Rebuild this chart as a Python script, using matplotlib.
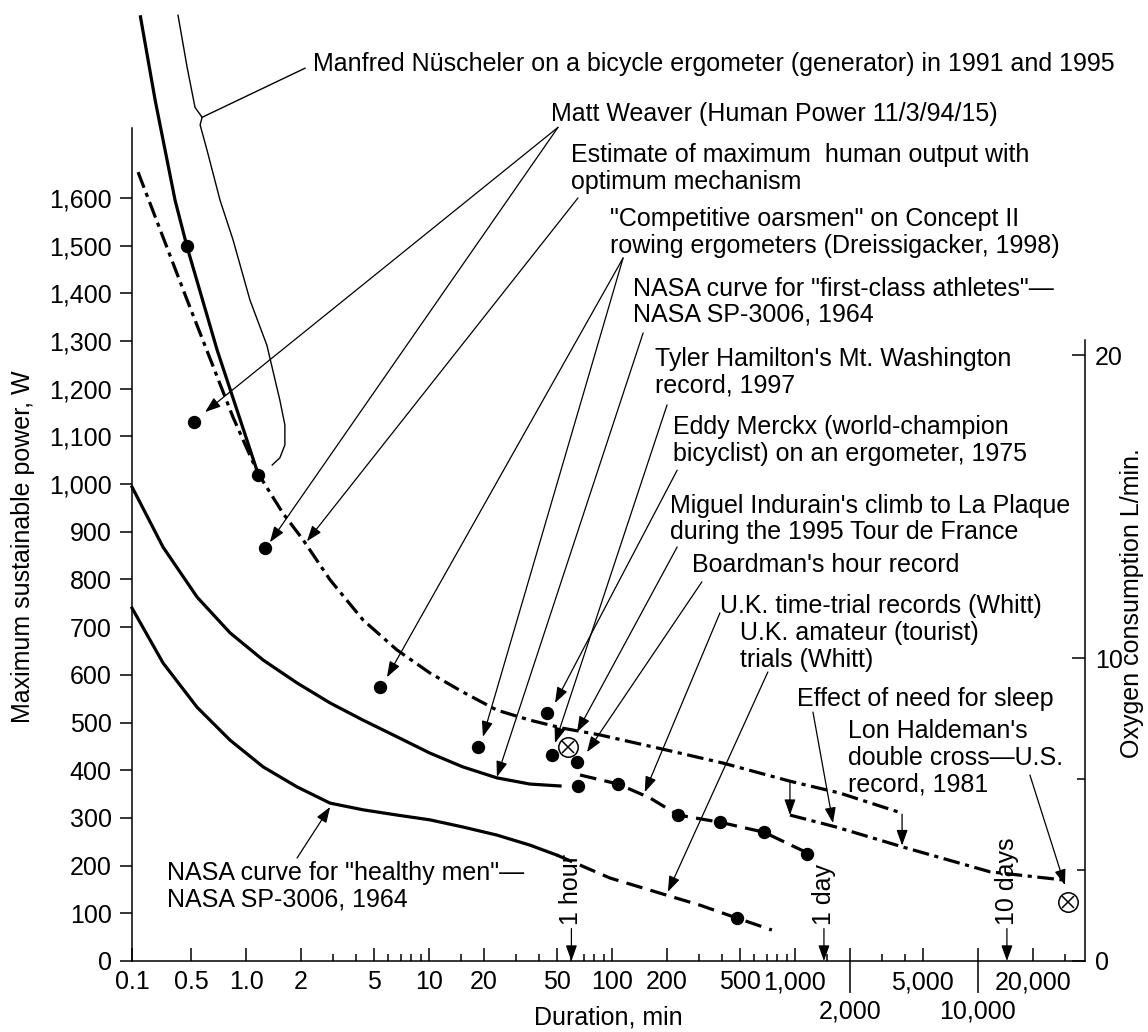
import numpy as np
import matplotlib
matplotlib.use("Agg")
import matplotlib.pyplot as plt

plt.rcParams["font.family"] = ["Liberation Sans", "DejaVu Sans"]
plt.rcParams["lines.scale_dashes"] = False

# durations in min, power in W
nuscheler_t = [0.125, 0.188, 0.324, 0.45, 0.695, 1.16]
nuscheler_w = [1983, 1805, 1595, 1497, 1281, 1023]
nuscheler_dot_t = [0.45, 1.16]
nuscheler_dot_w = [1500, 1020]

weaver_t = [0.52, 1.27]
weaver_w = [1130, 866]

best_t = [0.118, 0.45, 0.849, 1.16, 1.59, 2.05, 2.88, 4.36, 6.69, 10.1, 15.3,
          23.5, 35.6, 54, 86, 176, 404, 939, 1762, 3845]
best_w = [1654, 1386, 1140, 1023, 939, 883, 799, 715, 652, 604, 564,
          526, 505, 488, 474, 447, 415, 377, 352, 310]
sleep_t = [939, 1675, 3890, 11640, 29100]
sleep_w = [306, 281, 239, 187, 170]

athlete_t = [0.1, 0.233, 0.54, 0.818, 1.24, 1.90, 2.88, 4.36, 6.69, 10.1, 15.3, 23.5, 35.6, 52]
athlete_w = [994, 868, 763, 688, 631, 583, 541, 505, 470, 436, 407, 384, 371, 367]

healthy_t = [0.1, 0.233, 0.54, 0.818, 1.24, 1.90, 2.88, 4.36, 6.69, 10.1, 15.3, 23.5, 35.6, 50]
healthy_w = [740, 625, 532, 463, 407, 365, 331, 317, 306, 296, 281, 264, 243, 222]

amateur_t = [50, 97.5, 207, 303, 482, 748]
amateur_w = [222, 174, 136, 117, 90, 65]
amateur_dot_t = [482]
amateur_dot_w = [90]

trial_t = [66.9, 108, 161, 230, 389, 677, 1208]
trial_w = [390, 371, 342, 306, 291, 270, 224]
trial_dot_t = [65, 108, 230, 389, 677, 1163]
trial_dot_w = [367, 371, 306, 291, 270, 224]

oarsmen_t = [5.4, 18.5]
oarsmen_w = [574, 449]
merckx_t, merckx_w = [44.2], [520]
hamilton_t, hamilton_w = [47], [432]
boardman_t, boardman_w = [64.4], [417]
indurain_t, indurain_w = [57.5], [449]
haldeman_t, haldeman_w = [31040], [124]

W_PER_LPM = 63.5

major_ticks = [0.1, 0.5, 1, 2, 5, 10, 20, 50, 100, 200, 500, 1000, 2000, 5000, 10000, 20000]
major_labels = ["0.1", "0.5", "1.0", "2", "5", "10", "20", "50", "100", "200", "500",
                "1,000", "", "5,000", "", "20,000"]
minor_ticks = [3, 4, 6, 7, 8, 9, 15, 30, 40, 60, 70, 80, 90, 300, 400, 600, 700, 800, 900,
               1500, 3000, 4000, 30000]
low_ticks = [2000, 10000]
low_labels = ["2,000", "10,000"]

time_marks = [60, 1440, 14400]
time_labels = ["1 hour", "1 day", "10 days"]

# labels: text, anchor (left, baseline of last line), arrow start, arrow tips
notes = [
    ("Matt Weaver (Human Power 11/3/94/15)", (46.4, 1761), (50.7, 1748),
     [(0.597, 1151), (1.35, 878)]),
    ("Estimate of maximum  human output with\noptimum mechanism", (59.7, 1619), (65.2, 1600),
     [(2.15, 880)]),
    ("\"Competitive oarsmen\" on Concept II\nrowing ergometers (Dreissigacker, 1998)",
     (97.5, 1485), (115, 1474), [(5.89, 595), (19.7, 470)]),
    ("NASA curve for \"first-class athletes\"\u2014\nNASA SP-3006, 1964", (130, 1340),
     (148, 1317), [(23.5, 386)]),
    ("Tyler Hamilton's Mt. Washington\nrecord, 1997", (172, 1193), (200, 1166),
     [(48.8, 457)]),
    ("Eddy Merckx (world-champion\nbicyclist) on an ergometer, 1975", (215, 1049),
     (227, 1029), [(48.8, 541)]),
    ("Miguel Indurain's climb to La Plaque\nduring the 1995 Tour de France", (207, 885),
     (227, 868), [(64.4, 480)]),
    ("Boardman's hour record", (274, 816), (310, 795), [(73, 438)]),
    ("U.K. time-trial records (Whitt)", (389, 730), (389, 730), [(151, 354)]),
    ("U.K. amateur (tourist)\ntrials (Whitt)", (500, 617), (711, 606), [(202, 145)]),
    ("Effect of need for sleep", (1026, 535), (1254, 522), [(1614, 289)]),
    ("Lon Haldeman's\ndouble cross\u2014U.S.\nrecord, 1981", (1950, 356), (19230, 390),
     [(29870, 159)]),
    ("NASA curve for \"healthy men\"\u2014\nNASA SP-3006, 1964", (0.26, 114), (1.90, 216),
     [(2.88, 323)]),
]
sleep_steps = [((939, 375), (939, 306)), ((3850, 308), (3850, 242))]

bracket_t = [0.351, 0.45, 0.526, 0.575, 0.561, 0.612, 0.721, 0.849, 1.05, 1.30, 1.53,
             1.63, 1.63, 1.53, 1.39]
bracket_w = [1983, 1874, 1790, 1769, 1753, 1700, 1595, 1512, 1386, 1291, 1176,
             1124, 1082, 1055, 1040]

LOG_HALF = np.log10(0.5)
SQUEEZE = 0.461


def fwd(x):
    u = np.log10(np.clip(x, 1e-6, None))
    return np.where(u >= LOG_HALF, u, LOG_HALF + (u - LOG_HALF) * SQUEEZE)


def inv(p):
    p = np.asarray(p, dtype=float)
    return 10 ** np.where(p >= LOG_HALF, p, LOG_HALF + (p - LOG_HALF) / SQUEEZE)


FS = 18
fig = plt.figure(figsize=(11.48, 10.32), dpi=100)
ax = fig.add_axes([0.1150, 0.0688, 0.8301, 0.9312])
ax.set_xscale("function", functions=(fwd, inv))
ax.set_xlim(0.1, 38460)
ax.set_ylim(0, 2015)

ax.spines["top"].set_visible(False)
ax.spines["left"].set_bounds(0, 1746)
ax.spines["right"].set_bounds(0, 1302)
for s in ["left", "right", "bottom"]:
    ax.spines[s].set_linewidth(1.1)

ax.set_yticks(range(0, 1700, 100))
ax.set_yticklabels([f"{v:,}" for v in range(0, 1700, 100)])
ax.tick_params(axis="y", direction="out", length=8.6, width=1.1, pad=6, labelsize=FS)
ax.set_xticks(major_ticks, major_labels)
ax.set_xticks(minor_ticks, minor=True)
ax.tick_params(axis="x", which="major", direction="in", length=9.5, width=1.1, pad=6.5,
               labelsize=FS)
ax.tick_params(axis="x", which="minor", direction="in", length=5, width=1.1)

# second row of x labels with long ticks
ax_low = ax.twiny()
ax_low.set_xscale("function", functions=(fwd, inv))
ax_low.set_xlim(ax.get_xlim())
ax_low.xaxis.set_ticks_position("bottom")
ax_low.set_xticks(low_ticks, low_labels)
ax_low.tick_params(axis="x", direction="out", length=23, width=1.1, pad=5, labelsize=FS)
for s in ax_low.spines.values():
    s.set_visible(False)

sec = ax.secondary_yaxis("right", functions=(lambda w: w / W_PER_LPM, lambda l: l * W_PER_LPM))
sec.set_yticks([0, 10, 20])
sec.set_yticks([3, 6], minor=True)
sec.tick_params(which="major", direction="in", length=9.5, width=1.1, pad=7, labelsize=FS)
sec.tick_params(which="minor", direction="in", length=6, width=1.1)
for s in sec.spines.values():
    s.set_visible(False)

fig.text(23 / 1148, 1 - 547 / 1032, "Maximum sustainable power, W", rotation=90,
         ha="center", va="center", fontsize=FS)
fig.text(1132 / 1148, 1 - 603 / 1032, "Oxygen consumption L/min.", rotation=90,
         ha="center", va="center", fontsize=FS)
fig.text(608 / 1148, 1 - 1017 / 1032, "Duration, min", ha="center", va="center", fontsize=FS)

thick = 2.3
ax.plot(nuscheler_t, nuscheler_w, color="black", lw=thick, solid_capstyle="butt")
ax.plot(athlete_t, athlete_w, color="black", lw=thick, clip_on=False)
ax.plot(healthy_t, healthy_w, color="black", lw=thick, clip_on=False)
ax.plot(best_t, best_w, color="black", lw=thick, dashes=(12, 4, 3, 4))
ax.plot(sleep_t, sleep_w, color="black", lw=thick, dashes=(12, 4, 3, 4))
ax.plot(amateur_t, amateur_w, color="black", lw=thick, dashes=(12, 6))
ax.plot(trial_t, trial_w, color="black", lw=thick, dashes=(12, 6))
ax.plot(bracket_t, bracket_w, color="black", lw=1.0)

dot_sets = [(nuscheler_dot_t, nuscheler_dot_w), (weaver_t, weaver_w), (oarsmen_t, oarsmen_w),
            (merckx_t, merckx_w), (hamilton_t, hamilton_w), (boardman_t, boardman_w),
            (trial_dot_t, trial_dot_w), (amateur_dot_t, amateur_dot_w)]
for t, w in dot_sets:
    ax.plot(t, w, "o", color="black", ms=8.6, zorder=5)
for t, w in [(indurain_t, indurain_w), (haldeman_t, haldeman_w)]:
    ax.plot(t, w, "o", mfc="white", mec="black", mew=1.1, ms=14, zorder=5, clip_on=False)
    ax.plot(t, w, "x", color="black", mew=1.1, ms=9, zorder=6, clip_on=False)

arrow = dict(arrowstyle="-|>,head_length=0.95,head_width=0.34", color="black", lw=0.9,
             shrinkA=0, shrinkB=0)

ax.text(2.32, 1866, "Manfred Nüscheler on a bicycle ergometer (generator) in 1991 and 1995",
        fontsize=FS, ha="left", va="baseline")
ax.plot([2.10, 0.575], [1872, 1769], color="black", lw=1.0)

for text, (tx, ty), start, tips in notes:
    ax.text(tx, ty, text, fontsize=FS, ha="left", va="baseline", linespacing=1.125)
    for tip in tips:
        ax.annotate("", xy=tip, xytext=start, arrowprops=arrow)

for start, tip in sleep_steps:
    ax.annotate("", xy=tip, xytext=start, arrowprops=arrow)

for t, lab in zip(time_marks, time_labels):
    ax.text(t, 76, lab, rotation=90, ha="center", va="bottom", fontsize=FS)
    ax.annotate("", xy=(t, 0), xytext=(t, 68), arrowprops=arrow)

fig.savefig("out.png", dpi=100)
